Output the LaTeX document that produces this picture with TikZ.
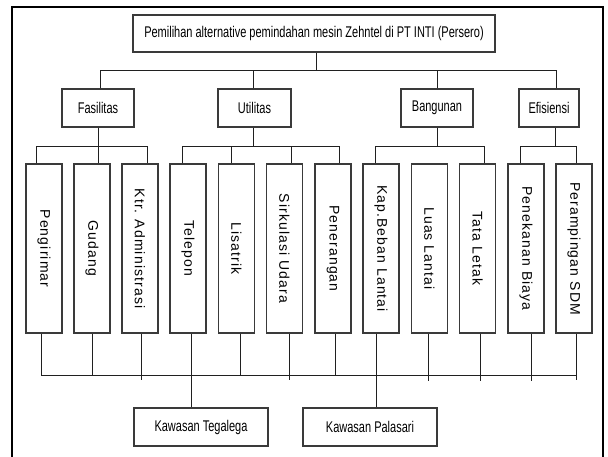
\documentclass[tikz,border=0pt]{standalone}
\usepackage{graphicx}
\usepackage{fontspec}
\setmainfont{Liberation Sans}
\newfontfamily\narrowf[FakeStretch=0.71]{Liberation Sans}
\newfontfamily\spacedf[LetterSpace=8]{Liberation Sans}
\definecolor{boxgray}{HTML}{3A3A3A}
\definecolor{linegray}{HTML}{202020}
\tikzset{
  hbox/.style={draw=boxgray, line width=1.3pt, inner sep=0pt, font=\narrowf\fontsize{15.5}{18}\selectfont},
  vbox/.style={draw=boxgray, line width=1.3pt, inner sep=0pt, minimum width=36pt, minimum height=169pt, font=\spacedf\fontsize{14}{16}\selectfont},
  conn/.style={draw=linegray, line width=1pt},
  frame/.style={draw=black, line width=2.2pt}
}
\newcommand{\vt}[1]{\rotatebox{-90}{#1}}
\begin{document}
\begin{tikzpicture}[x=1pt,y=-1pt]
\useasboundingbox (0,0) rectangle (608,456);
\draw[frame] (12,458) -- (12,7) -- (603,7) -- (603,458);

% top
\node[hbox, minimum width=362pt, minimum height=37pt] (top) at (314,33.5) {Pemilihan alternative pemindahan mesin Zehntel di PT INTI (Persero)};

% level 2
\node[hbox, minimum width=72pt, minimum height=38pt] (fas) at (98,108) {Fasilitas};
\node[hbox, minimum width=73pt, minimum height=38pt] (uti) at (254.5,108) {Utilitas};
\node[hbox, minimum width=72pt, minimum height=38pt] (ban) at (437,108) {Bangunan};
\node[hbox, minimum width=60pt, minimum height=38pt] (eff) at (549,108) {Efisiensi};

% level 3
\node[vbox] (p1) at (44,248.5) {\vt{Pengirimar}};
\node[vbox] (p2) at (92,248.5) {\vt{Gudang}};
\node[vbox] (p3) at (140,248.5) {\vt{Ktr. Administrasi}};
\node[vbox] (p4) at (188,248.5) {\vt{Telepon}};
\node[vbox] (p5) at (236.5,248.5) {\vt{Lisatrik}};
\node[vbox] (p6) at (284.5,248.5) {\vt{Sirkulasi Udara}};
\node[vbox] (p7) at (333,248.5) {\vt{Penerangan}};
\node[vbox] (p8) at (381,248.5) {\vt{Kap.Beban Lantai}};
\node[vbox] (p9) at (429.5,248.5) {\vt{Luas Lantai}};
\node[vbox] (p10) at (477.5,248.5) {\vt{Tata Letak}};
\node[vbox] (p11) at (526,248.5) {\vt{Penekanan Biaya}};
\node[vbox] (p12) at (574,248.5) {\vt{Perampingan SDM}};

% bottom
\node[hbox, minimum width=134pt, minimum height=38pt] (teg) at (201,427) {Kawasan Tegalega};
\node[hbox, minimum width=134pt, minimum height=38pt] (pal) at (370,427) {Kawasan Palasari};

% buses
\coordinate (busA) at (0,70);
\coordinate (busB) at (0,146);
\coordinate (busC) at (0,375);

% top to level 2
\draw[conn] ([xshift=2pt]top.south) -- ([xshift=2pt]top.south |- busA);
\draw[conn] ([xshift=2pt]fas.north) -- ([xshift=2pt]fas.north |- busA) -- ([xshift=7pt]eff.north |- busA) -- ([xshift=7pt]eff.north);
\draw[conn] ([xshift=-1pt]uti.north) -- ([xshift=-1pt]uti.north |- busA);
\draw[conn] (ban.north) -- (ban.north |- busA);

% Fasilitas group
\draw[conn] (fas.south) -- ([xshift=6pt]p2.north);
\draw[conn] ([xshift=-8pt]p1.north) -- ([xshift=-8pt]p1.north |- busB) -- ([xshift=7pt]p3.north |- busB) -- ([xshift=7pt]p3.north);
% Utilitas group
\draw[conn] ([xshift=-1pt]uti.south) -- ([xshift=-1pt]uti.south |- busB);
\draw[conn] ([xshift=-6pt]p4.north) -- ([xshift=-6pt]p4.north |- busB) -- ([xshift=6pt]p7.north |- busB) -- ([xshift=6pt]p7.north);
\draw[conn] ([xshift=-5.5pt]p5.north) -- ([xshift=-5.5pt]p5.north |- busB);
\draw[conn] ([xshift=6.5pt]p6.north) -- ([xshift=6.5pt]p6.north |- busB);
% Bangunan group
\draw[conn] (ban.south) -- (ban.south |- busB);
\draw[conn] ([xshift=-6pt]p8.north) -- ([xshift=-6pt]p8.north |- busB) -- ([xshift=6.5pt]p10.north |- busB) -- ([xshift=6.5pt]p10.north);
% Efisiensi group
\draw[conn] ([xshift=6pt]eff.south) -- ([xshift=6pt]eff.south |- busB);
\draw[conn] ([xshift=-6pt]p11.north) -- ([xshift=-6pt]p11.north |- busB) -- ([xshift=2pt]p12.north |- busB) -- ([xshift=2pt]p12.north);

% bottom bus
\draw[conn] ([xshift=-3pt]p1.south) -- ([xshift=-3pt]p1.south |- busC) -- ([xshift=2pt]p12.south |- busC);
\draw[conn] ([xshift=2pt]p12.south) -- ([xshift=2pt,yshift=-5pt]p12.south |- busC);
\draw[conn] (p2.south) -- (p2.south |- busC);
\draw[conn] ([xshift=1pt]p3.south) -- ([xshift=1pt,yshift=-5pt]p3.south |- busC);
\draw[conn] ([xshift=3pt]p4.south) -- ([xshift=3pt]p4.south |- teg.north);
\draw[conn] ([xshift=3.5pt]p5.south) -- ([xshift=3.5pt]p5.south |- busC);
\draw[conn] ([xshift=4.5pt]p6.south) -- ([xshift=4.5pt,yshift=-5pt]p6.south |- busC);
\draw[conn] ([xshift=2pt]p7.south) -- ([xshift=2pt]p7.south |- busC);
\draw[conn] ([xshift=-5pt]p8.south) -- ([xshift=-5pt]p8.south |- pal.north);
\draw[conn] ([xshift=-1.5pt]p9.south) -- ([xshift=-1.5pt,yshift=-6pt]p9.south |- busC);
\draw[conn] ([xshift=2.5pt]p10.south) -- ([xshift=2.5pt,yshift=-6pt]p10.south |- busC);
\draw[conn] ([xshift=5pt]p11.south) -- ([xshift=5pt,yshift=-6pt]p11.south |- busC);
\end{tikzpicture}
\end{document}
